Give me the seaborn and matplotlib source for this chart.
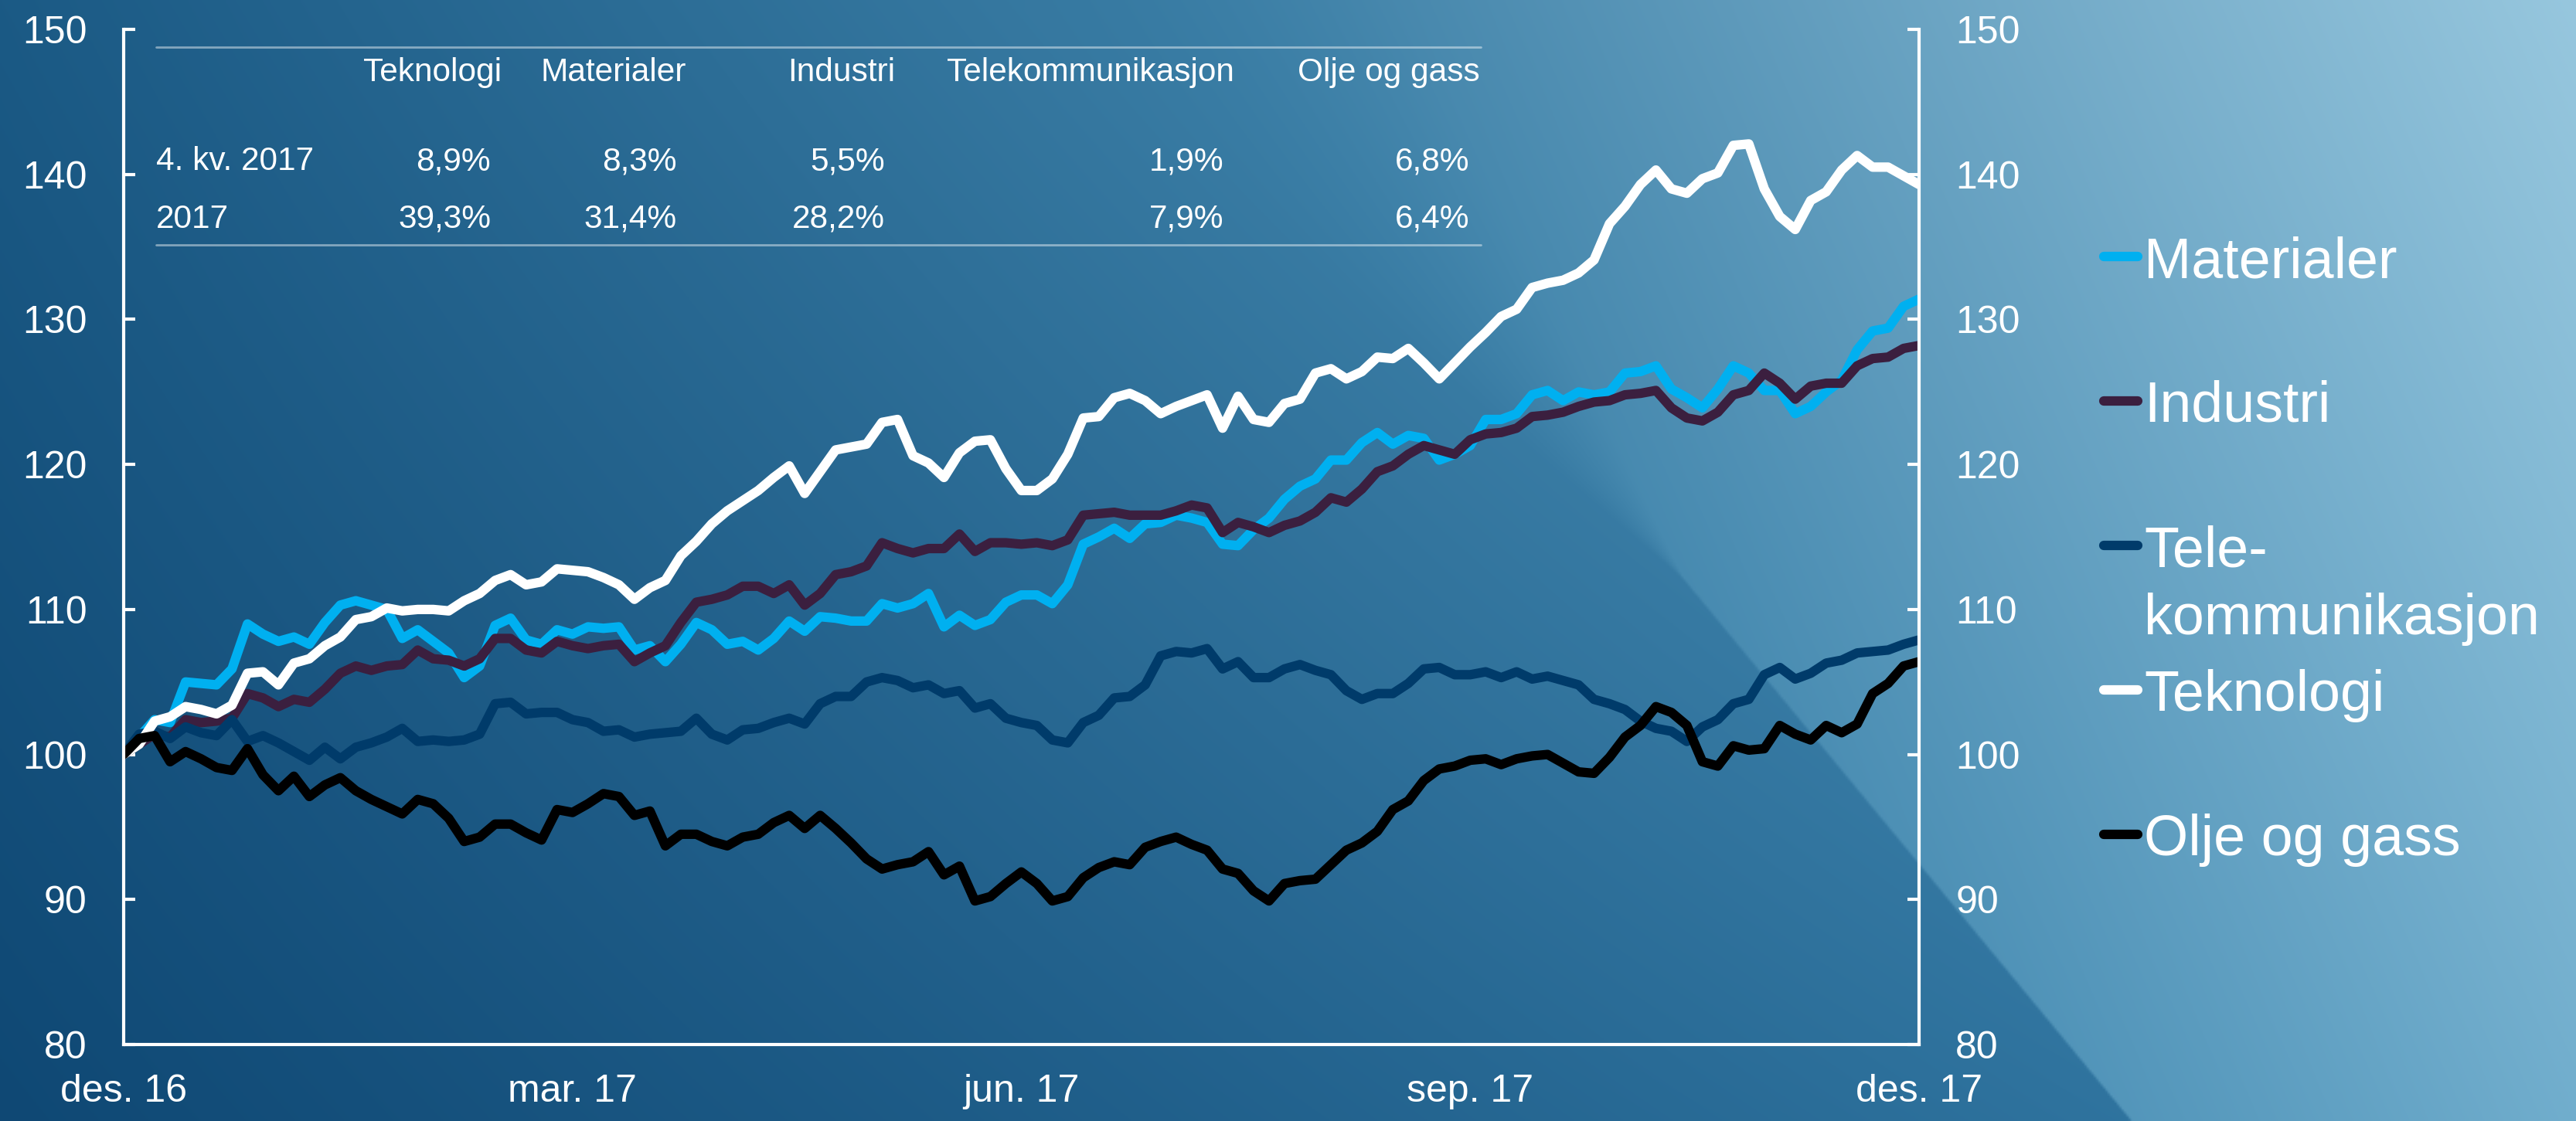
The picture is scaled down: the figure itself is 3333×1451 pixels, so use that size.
import numpy as np
import pandas as pd
import seaborn as sns
import matplotlib.pyplot as plt
from matplotlib.lines import Line2D

# --- 1. Data: sector indices (30.12.2016 = 100) ---
materialer = [
    100.0, 101.2, 102.4, 102.2, 105.0, 104.9, 104.8, 105.9, 109.0, 108.3,
    107.8, 108.1, 107.6, 109.1, 110.3, 110.6, 110.3, 110.0, 108.0, 108.6,
    107.8, 107.0, 105.3, 106.1, 108.9, 109.4, 107.9, 107.6, 108.6, 108.3,
    108.8, 108.7, 108.8, 107.2, 107.5, 106.4, 107.6, 109.1, 108.6, 107.6,
    107.8, 107.2, 108.0, 109.2, 108.5, 109.5, 109.4, 109.2, 109.2, 110.4,
    110.1, 110.4, 111.1, 108.8, 109.6, 108.9, 109.3, 110.5, 111.0, 111.0,
    110.4, 111.7, 114.5, 115.0, 115.6, 114.9, 115.9, 116.0, 116.5, 116.3,
    116.0, 114.5, 114.4, 115.5, 116.3, 117.6, 118.5, 119.0, 120.3, 120.3,
    121.5, 122.2, 121.4, 122.0, 121.8, 120.3, 120.7, 121.3, 123.1, 123.1,
    123.5, 124.8, 125.1, 124.4, 125.0, 124.8, 125.0, 126.3, 126.4, 126.8,
    125.2, 124.6, 123.9, 125.2, 126.8, 126.3, 125.1, 125.1, 123.5, 124.0,
    125.0, 125.8, 127.9, 129.2, 129.4, 130.9, 131.4,
]
industri = [
    100.0, 100.7, 101.4, 101.2, 102.4, 102.2, 102.3, 102.5, 104.2, 103.9,
    103.3, 103.8, 103.6, 104.5, 105.6, 106.1, 105.8, 106.1, 106.2, 107.2,
    106.6, 106.5, 106.1, 106.6, 108.0, 108.0, 107.2, 107.0, 107.8, 107.5,
    107.3, 107.5, 107.6, 106.4, 107.0, 107.5, 109.1, 110.5, 110.7, 111.0,
    111.6, 111.6, 111.1, 111.7, 110.3, 111.1, 112.4, 112.6, 113.0, 114.6,
    114.2, 113.9, 114.2, 114.2, 115.2, 114.0, 114.6, 114.6, 114.5, 114.6,
    114.4, 114.8, 116.5, 116.6, 116.7, 116.5, 116.5, 116.5, 116.8, 117.2,
    117.0, 115.3, 116.0, 115.7, 115.3, 115.8, 116.1, 116.7, 117.7, 117.4,
    118.3, 119.5, 119.9, 120.7, 121.3, 121.0, 120.7, 121.7, 122.1, 122.2,
    122.5, 123.3, 123.4, 123.6, 124.0, 124.3, 124.4, 124.8, 124.9, 125.1,
    123.9, 123.2, 123.0, 123.6, 124.8, 125.1, 126.3, 125.6, 124.5, 125.4,
    125.6, 125.6, 126.8, 127.3, 127.4, 128.0, 128.2,
]
telekom = [
    100.0, 101.4, 101.6, 101.1, 101.9, 101.5, 101.3, 102.4, 100.9, 101.3,
    100.8, 100.2, 99.6, 100.5, 99.7, 100.5, 100.8, 101.2, 101.8, 100.9,
    101.0, 100.9, 101.0, 101.4, 103.5, 103.6, 102.8, 102.9, 102.9, 102.4,
    102.2, 101.6, 101.7, 101.2, 101.4, 101.5, 101.6, 102.5, 101.4, 101.0,
    101.7, 101.8, 102.2, 102.5, 102.1, 103.5, 104.0, 104.0, 105.0, 105.3,
    105.1, 104.6, 104.8, 104.2, 104.4, 103.2, 103.5, 102.5, 102.2, 102.0,
    101.0, 100.8, 102.2, 102.7, 103.9, 104.0, 104.8, 106.8, 107.1, 107.0,
    107.3, 105.9, 106.4, 105.3, 105.3, 105.9, 106.2, 105.8, 105.5, 104.4,
    103.8, 104.2, 104.2, 104.9, 105.9, 106.0, 105.5, 105.5, 105.7, 105.3,
    105.7, 105.2, 105.4, 105.1, 104.8, 103.8, 103.5, 103.1, 102.3, 101.8,
    101.6, 100.9, 101.9, 102.4, 103.5, 103.8, 105.5, 106.0, 105.2, 105.6,
    106.3, 106.5, 107.0, 107.1, 107.2, 107.6, 107.9,
]
teknologi = [
    100.0, 100.7, 102.3, 102.6, 103.3, 103.1, 102.8, 103.4, 105.6, 105.7,
    104.8, 106.3, 106.6, 107.5, 108.1, 109.3, 109.5, 110.1, 109.9, 110.0,
    110.0, 109.9, 110.6, 111.1, 112.0, 112.4, 111.7, 111.9, 112.8, 112.7,
    112.6, 112.2, 111.7, 110.7, 111.5, 112.0, 113.7, 114.7, 115.9, 116.8,
    117.5, 118.2, 119.1, 119.9, 118.0, 119.5, 121.0, 121.2, 121.4, 122.9,
    123.1, 120.6, 120.1, 119.1, 120.8, 121.6, 121.7, 119.7, 118.2, 118.2,
    119.0, 120.7, 123.2, 123.3, 124.6, 124.9, 124.4, 123.5, 124.0, 124.4,
    124.8, 122.5, 124.7, 123.1, 122.9, 124.2, 124.5, 126.3, 126.6, 125.9,
    126.4, 127.4, 127.3, 128.0, 127.0, 125.9, 127.0, 128.1, 129.1, 130.2,
    130.7, 132.2, 132.5, 132.7, 133.2, 134.1, 136.6, 137.8, 139.3, 140.3,
    139.0, 138.7, 139.7, 140.1, 142.0, 142.1, 139.0, 137.1, 136.2, 138.2,
    138.8, 140.3, 141.3, 140.5, 140.5, 139.9, 139.3,
]
olje_gass = [
    100.0, 101.1, 101.3, 99.5, 100.2, 99.7, 99.1, 98.9, 100.4, 98.6,
    97.5, 98.5, 97.1, 97.9, 98.4, 97.5, 96.9, 96.4, 95.9, 96.9,
    96.6, 95.6, 94.0, 94.3, 95.2, 95.2, 94.6, 94.1, 96.2, 96.0,
    96.6, 97.3, 97.1, 95.8, 96.1, 93.7, 94.5, 94.5, 94.0, 93.7,
    94.3, 94.5, 95.3, 95.8, 94.9, 95.8, 94.9, 93.9, 92.8, 92.1,
    92.4, 92.6, 93.3, 91.7, 92.3, 89.9, 90.2, 91.1, 91.9, 91.1,
    89.9, 90.2, 91.5, 92.2, 92.6, 92.4, 93.6, 94.0, 94.3, 93.8,
    93.4, 92.1, 91.8, 90.6, 89.9, 91.1, 91.3, 91.4, 92.4, 93.4,
    93.9, 94.7, 96.2, 96.8, 98.2, 99.0, 99.2, 99.6, 99.7, 99.3,
    99.7, 99.9, 100.0, 99.4, 98.8, 98.7, 99.8, 101.2, 102.0, 103.3,
    102.9, 102.0, 99.5, 99.2, 100.6, 100.3, 100.4, 102.0, 101.4, 101.0,
    102.0, 101.5, 102.1, 104.2, 104.9, 106.1, 106.4,
]

sector_names = ['Materialer', 'Industri', 'Telekommunikasjon', 'Teknologi', 'Olje og gass']
legend_labels = ['Materialer', 'Industri', 'Tele-\nkommunikasjon', 'Teknologi', 'Olje og gass']
sector_colors = ['#00B0F0', '#3B1F3F', '#003B6A', '#FFFFFF', '#000000']

tick_dates = ['2016-12-30', '2017-03-31', '2017-06-30', '2017-09-29', '2017-12-29']
tick_labels = ['des. 16', 'mar. 17', 'jun. 17', 'sep. 17', 'des. 17']

# summary table above the lines
table_headers = ['Teknologi', 'Materialer', 'Industri', 'Telekommunikasjon', 'Olje og gass']
table_rows = ['4. kv. 2017', '2017']
q4_returns = ['8,9%', '8,3%', '5,5%', '1,9%', '6,8%']
year_returns = ['39,3%', '31,4%', '28,2%', '7,9%', '6,4%']

# --- 2. Long dataframe for seaborn ---
dates = pd.date_range(tick_dates[0], tick_dates[-1], periods=len(teknologi))
all_series = [materialer, industri, telekom, teknologi, olje_gass]
df = pd.concat(
    [pd.DataFrame({'dato': dates, 'indeks': vals, 'sektor': name})
     for name, vals in zip(sector_names, all_series)],
    ignore_index=True)

# --- 3. Figure + gradient background ---
sns.set_style('ticks')
plt.rcParams['font.family'] = ['Liberation Sans', 'DejaVu Sans']

W, H = 3333, 1451
fig = plt.figure(figsize=(W / 100, H / 100), dpi=100)

yy, xx = np.mgrid[0:H:3, 0:W:3].astype(float)
up = H - yy
# darker base (left), lightening towards the top right
base = np.stack([15 + 0.0116 * xx + 0.0083 * up + 6.15e-6 * xx * up,
                 72 + 0.0157 * xx + 0.0124 * up + 5.07e-6 * xx * up,
                 116 + 0.0154 * xx + 0.0117 * up + 3.67e-6 * xx * up], axis=-1)
# lighter diagonal panel on the right
panel = np.stack([-59.8 + 0.0519 * xx + 0.0261 * up,
                  36.9 + 0.0411 * xx + 0.0173 * up,
                  98.8 + 0.0319 * xx + 0.0116 * up], axis=-1)
# soft edge near the top, sharp towards the bottom
edge_x = 1559 + 0.8256 * yy
soft = np.maximum(4, 500 * (1 - yy / 750))
wgt = np.clip((xx - edge_x) / soft + 0.5, 0, 1)[..., None]
bg = np.clip(base + wgt * (panel - base), 0, 255) / 255

bg_ax = fig.add_axes([0, 0, 1, 1], zorder=0)
bg_ax.imshow(bg, extent=[0, W, H, 0], aspect='auto', interpolation='bilinear')
bg_ax.set_xlim(0, W)
bg_ax.set_ylim(H, 0)
bg_ax.axis('off')

# plot area in pixel terms of the reference
ax = fig.add_axes([160 / W, 1 - 1352 / H, 2323 / W, 1314 / H], zorder=1)
ax.patch.set_alpha(0)

# --- 4. Lines ---
sns.lineplot(data=df, x='dato', y='indeks', hue='sektor', hue_order=sector_names,
             palette=sector_colors, linewidth=8.8, legend=False, ax=ax,
             solid_joinstyle='round', solid_capstyle='round')

ax.set_xlim(dates[0], dates[-1])
ax.set_ylim(80, 150)
ax.set_yticks(range(80, 151, 10))
ax.set_xticks(pd.to_datetime(tick_dates))
ax.set_xticklabels(tick_labels)
ax.set_xlabel('')
ax.set_ylabel('')

ax2 = ax.twinx()
ax2.set_ylim(80, 150)
ax2.set_yticks(range(80, 151, 10))

for a in (ax, ax2):
    for s in a.spines.values():
        s.set_visible(False)
        s.set_color('white')
        s.set_linewidth(3)
    a.tick_params(axis='y', direction='in', length=11, width=3, colors='white',
                  labelsize=36, pad=34)
ax.spines['left'].set_visible(True)
ax.spines['bottom'].set_visible(True)
ax2.spines['right'].set_visible(True)
ax.tick_params(axis='x', length=0, colors='white', labelsize=36, pad=27)

# --- 5. Table in the top-left ---
def fx(px):
    return px / W

def fy(py):
    return 1 - py / H

line_kw = dict(color='white', alpha=0.45, lw=2)
fig.add_artist(Line2D([fx(202), fx(1916)], [fy(61), fy(61)], **line_kw))
fig.add_artist(Line2D([fx(202), fx(1916)], [fy(317), fy(317)], **line_kw))

header_right = [649, 888, 1158, 1597, 1915]
value_right = [635, 876, 1145, 1583, 1901]
for name, xr in zip(table_headers, header_right):
    fig.text(fx(xr), fy(105), name, ha='right', va='baseline', color='white', fontsize=30.5)
for row_label, row_vals, base_y in zip(table_rows, [q4_returns, year_returns], [220, 295]):
    fig.text(fx(202), fy(base_y), row_label, ha='left', va='baseline', color='white', fontsize=30.5)
    for val, xr in zip(row_vals, value_right):
        fig.text(fx(xr), fy(base_y), val, ha='right', va='baseline', color='white', fontsize=30.5)

# --- 6. Legend on the right (fixed slots like the original) ---
for i, (label, color) in enumerate(zip(legend_labels, sector_colors)):
    baseline = 359 + i * 187
    fig.add_artist(Line2D([fx(2722), fx(2766)], [fy(baseline - 27)] * 2, color=color,
                          lw=8.8, solid_capstyle='round'))
    for j, part in enumerate(label.split('\n')):
        fig.text(fx(2774), fy(baseline + j * 88), part, ha='left', va='baseline',
                 color='white', fontsize=53)

fig.savefig('out.png', dpi=100)
plt.close(fig)
